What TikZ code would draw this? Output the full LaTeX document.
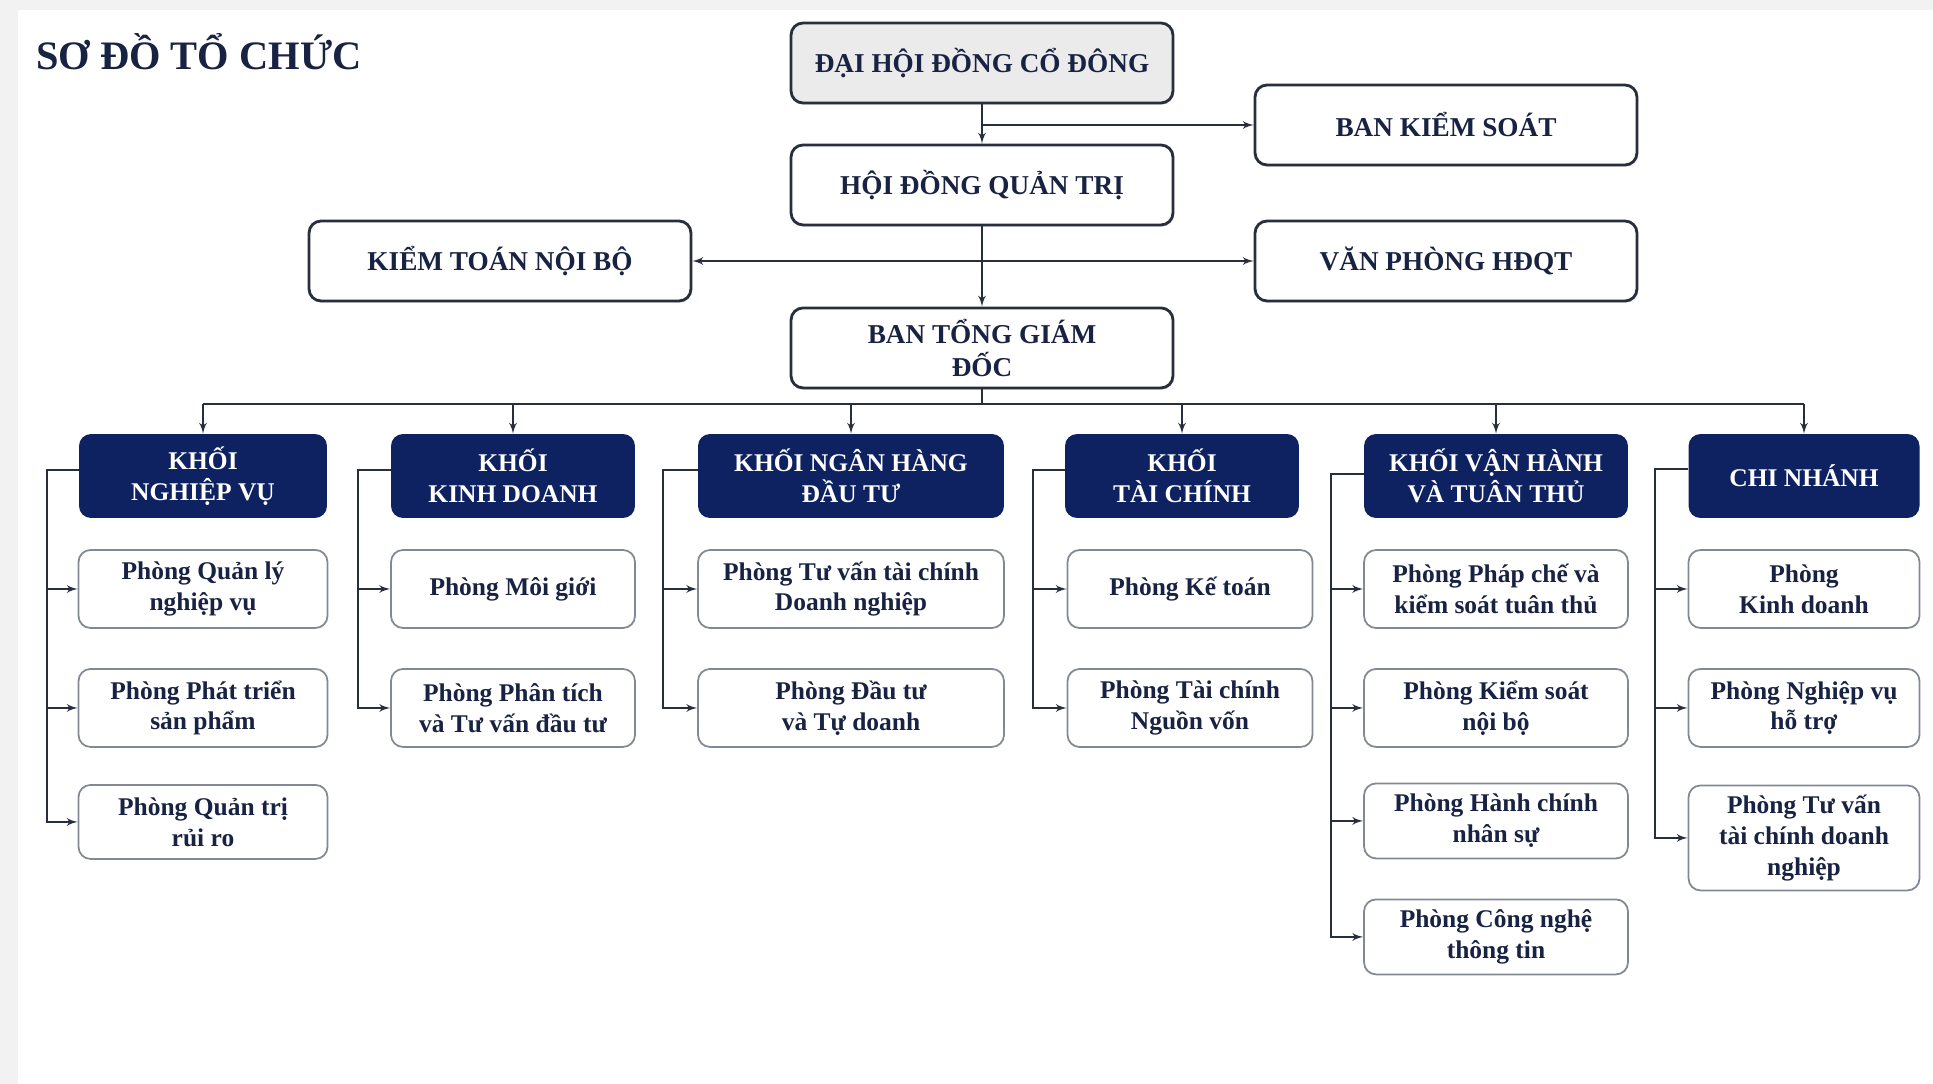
\documentclass[tikz,border=0pt]{standalone}
\usepackage{fontspec}
\setmainfont{Liberation Serif}
\usepackage{tikz}
\usetikzlibrary{shapes,arrows,shadows}
\definecolor{navy}{RGB}{14,33,96}
\definecolor{ink}{RGB}{24,34,66}
\definecolor{wire}{RGB}{40,46,62}
\definecolor{rim}{RGB}{130,136,148}
\tikzstyle{top} = [rectangle, draw=wire, line width=1.6pt, fill=white, text=ink,
    minimum width=7.64cm, minimum height=1.6cm, rounded corners=0.24cm,
    font=\fontsize{15.5}{18}\selectfont\bfseries,
    drop shadow={opacity=0.25, shadow xshift=0.6pt, shadow yshift=-1pt}]
\tikzstyle{khoi} = [rectangle, fill=navy, text=white, align=center,
    minimum height=1.68cm, rounded corners=0.24cm,
    font=\fontsize{14.5}{17.5}\selectfont\bfseries]
\tikzstyle{sub} = [rectangle, draw=rim, line width=1pt, fill=white, text=ink,
    align=center, minimum height=1.56cm, rounded corners=0.24cm,
    font=\fontsize{14.5}{17.5}\selectfont\bfseries]
\tikzstyle{line} = [draw=wire, line width=1.15pt, -latex']

\begin{document}
\begin{tikzpicture}[x=0.02cm, y=-0.02cm, node distance = 2cm]
  % frame
  \fill [black!5] (0,0) rectangle (1933,1084);
  \fill [white] (18,10) rectangle (1933,1084);
  \useasboundingbox (0,0) rectangle (1933,1084);
  \node [anchor=west, text=ink, font=\fontsize{23}{26}\selectfont\bfseries] (title) at (30,52) {SƠ ĐỒ TỔ CHỨC};
  % top nodes
  \node [top, fill=black!8] (dhcd) at (982,63) {ĐẠI HỘI ĐỒNG CỔ ĐÔNG};
  \node [top] (bks) at (1446,125) {BAN KIỂM SOÁT};
  \node [top, below of = dhcd, node distance = 2.44cm] (hdqt) {HỘI ĐỒNG QUẢN TRỊ};
  \node [top] (ktnb) at (500,261) {KIỂM TOÁN NỘI BỘ};
  \node [top] (vphd) at (1446,261) {VĂN PHÒNG HĐQT};
  \node [top, below of = hdqt, node distance = 3.26cm, align=center, font=\fontsize{15.5}{19}\selectfont\bfseries] (btgd) {BAN TỔNG GIÁM\\ĐỐC};
  \coordinate (bus) at (982,404);
  % khoi
  \node [khoi, minimum width=4.96cm] (nv) at (203,476) {KHỐI\\NGHIỆP VỤ};
  \node [khoi, minimum width=4.88cm] (kd) at (513,476) {KHỐI\\KINH DOANH};
  \node [khoi, minimum width=6.12cm] (nh) at (851,476) {KHỐI NGÂN HÀNG\\ĐẦU TƯ};
  \node [khoi, minimum width=4.68cm] (tc) at (1182,476) {KHỐI\\TÀI CHÍNH};
  \node [khoi, minimum width=5.28cm] (vh) at (1496,476) {KHỐI VẬN HÀNH\\VÀ TUÂN THỦ};
  \node [khoi, minimum width=4.62cm] (cn) at (1804,476) {CHI NHÁNH};
  % phong
  \node [sub, minimum width=4.98cm, below of = nv, node distance = 2.26cm] (nv1) {Phòng Quản lý\\nghiệp vụ};
  \node [sub, minimum width=4.98cm, below of = nv1, node distance = 2.38cm] (nv2) {Phòng Phát triển\\sản phẩm};
  \node [sub, minimum width=4.98cm, minimum height=1.48cm, below of = nv2, node distance = 2.28cm] (nv3) {Phòng Quản trị\\rủi ro};
  \node [sub, minimum width=4.88cm, below of = kd, node distance = 2.26cm] (kd1) {Phòng Môi giới};
  \node [sub, minimum width=4.88cm, below of = kd1, node distance = 2.38cm] (kd2) {Phòng Phân tích\\và Tư vấn đầu tư};
  \node [sub, minimum width=6.12cm, below of = nh, node distance = 2.26cm] (nh1) {Phòng Tư vấn tài chính\\Doanh nghiệp};
  \node [sub, minimum width=6.12cm, below of = nh1, node distance = 2.38cm] (nh2) {Phòng Đầu tư\\và Tự doanh};
  \node [sub, minimum width=4.9cm] (tc1) at (1190,589) {Phòng Kế toán};
  \node [sub, minimum width=4.9cm, below of = tc1, node distance = 2.38cm] (tc2) {Phòng Tài chính\\Nguồn vốn};
  \node [sub, minimum width=5.28cm, below of = vh, node distance = 2.26cm] (vh1) {Phòng Pháp chế và\\kiểm soát tuân thủ};
  \node [sub, minimum width=5.28cm, below of = vh1, node distance = 2.38cm] (vh2) {Phòng Kiểm soát\\nội bộ};
  \node [sub, minimum width=5.28cm, minimum height=1.5cm, below of = vh2, node distance = 2.26cm] (vh3) {Phòng Hành chính\\nhân sự};
  \node [sub, minimum width=5.28cm, minimum height=1.5cm, below of = vh3, node distance = 2.32cm] (vh4) {Phòng Công nghệ\\thông tin};
  \node [sub, minimum width=4.62cm, below of = cn, node distance = 2.26cm] (cn1) {Phòng\\Kinh doanh};
  \node [sub, minimum width=4.62cm, below of = cn1, node distance = 2.38cm] (cn2) {Phòng Nghiệp vụ\\hỗ trợ};
  \node [sub, minimum width=4.62cm, minimum height=2.1cm, below of = cn2, node distance = 2.6cm] (cn3) {Phòng Tư vấn\\tài chính doanh\\nghiệp};
  % top edges
  \path [line] (dhcd) -- (hdqt);
  \path [line] (dhcd.south |- bks.west) -- (bks.west);
  \path [line] (hdqt) -- (btgd);
  \path [line] (hdqt.south |- ktnb.east) -- (ktnb.east);
  \path [line] (hdqt.south |- vphd.west) -- (vphd.west);
  % bus
  \draw [draw=wire, line width=1.15pt] (btgd.south) -- (bus);
  \draw [draw=wire, line width=1.15pt] (bus -| nv.north) -- (bus -| cn.north);
  \path [line] (bus -| nv.north) -- (nv.north);
  \path [line] (bus -| kd.north) -- (kd.north);
  \path [line] (bus -| nh.north) -- (nh.north);
  \path [line] (bus -| tc.north) -- (tc.north);
  \path [line] (bus -| vh.north) -- (vh.north);
  \path [line] (bus -| cn.north) -- (cn.north);
  % rails
  \path [line] ([yshift=0.12cm]nv.west) -- ++(-0.64cm,0) |- (nv1.west);
  \path [line] ([yshift=0.12cm]nv.west) -- ++(-0.64cm,0) |- (nv2.west);
  \path [line] ([yshift=0.12cm]nv.west) -- ++(-0.64cm,0) |- (nv3.west);
  \path [line] ([yshift=0.12cm]kd.west) -- ++(-0.66cm,0) |- (kd1.west);
  \path [line] ([yshift=0.12cm]kd.west) -- ++(-0.66cm,0) |- (kd2.west);
  \path [line] ([yshift=0.12cm]nh.west) -- ++(-0.7cm,0) |- (nh1.west);
  \path [line] ([yshift=0.12cm]nh.west) -- ++(-0.7cm,0) |- (nh2.west);
  \path [line] ([yshift=0.12cm]tc.west) -- ++(-0.64cm,0) |- (tc1.west);
  \path [line] ([yshift=0.12cm]tc.west) -- ++(-0.64cm,0) |- (tc2.west);
  \path [line] ([yshift=0.04cm]vh.west) -- ++(-0.66cm,0) |- (vh1.west);
  \path [line] ([yshift=0.04cm]vh.west) -- ++(-0.66cm,0) |- (vh2.west);
  \path [line] ([yshift=0.04cm]vh.west) -- ++(-0.66cm,0) |- (vh3.west);
  \path [line] ([yshift=0.04cm]vh.west) -- ++(-0.66cm,0) |- (vh4.west);
  \path [line] ([yshift=0.14cm]cn.west) -- ++(-0.66cm,0) |- (cn1.west);
  \path [line] ([yshift=0.14cm]cn.west) -- ++(-0.66cm,0) |- (cn2.west);
  \path [line] ([yshift=0.14cm]cn.west) -- ++(-0.66cm,0) |- (cn3.west);
\end{tikzpicture}
\end{document}
